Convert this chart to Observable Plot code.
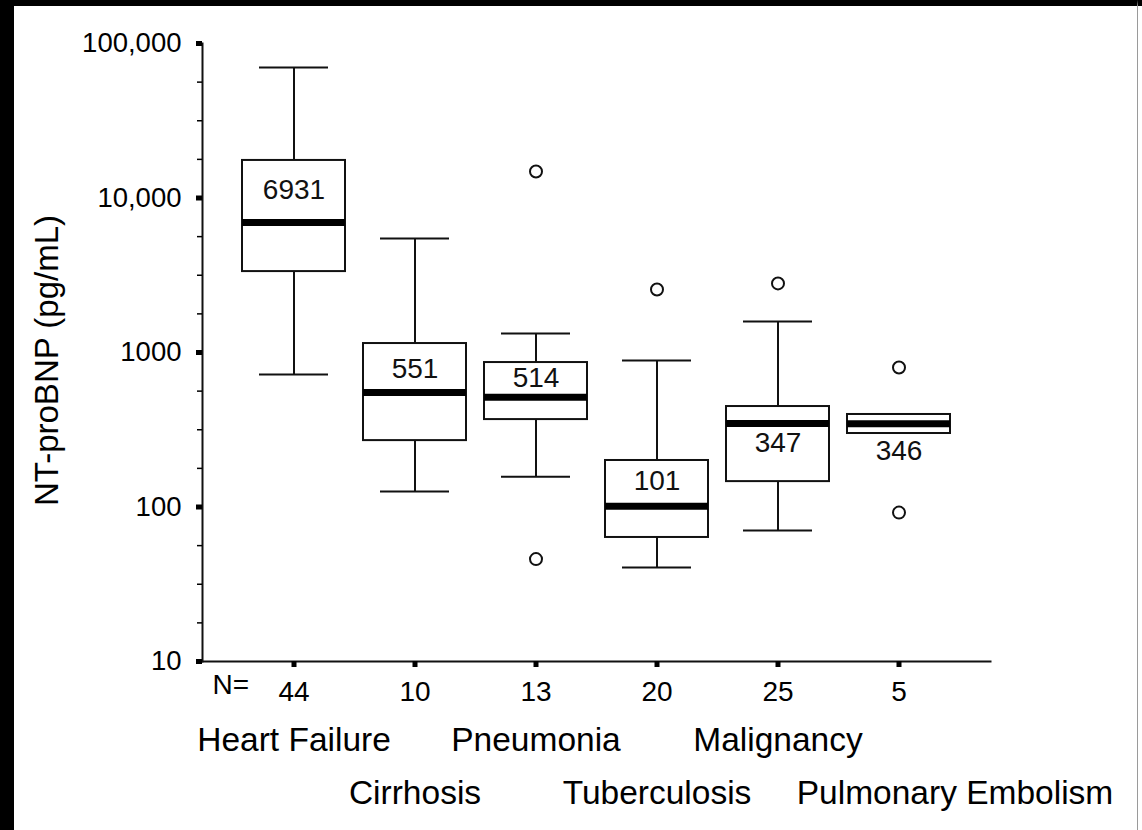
<!DOCTYPE html>
<html>
<head>
<meta charset="utf-8">
<script src="https://cdn.jsdelivr.net/npm/d3@7"></script>
<script src="https://cdn.jsdelivr.net/npm/@observablehq/plot@0.6"></script>
<style>
  html, body { margin: 0; padding: 0; background: #000; }
  #frame {
    position: relative;
    box-sizing: border-box;
    width: 1138px;
    height: 830px;
    background: #fff;
    border-top: 6px solid #000;
    border-left: 14px solid #000;
    border-right: 1px solid #9a9a9a;
  }
  #page-pad { position: absolute; left: 1138px; top: 6px; width: 4px; height: 824px; background: #fff; }
  #chart { position: absolute; left: 0; top: 0; }
</style>
</head>
<body>
<div id="frame"><div id="chart"></div></div>
<div id="page-pad"></div>
<script>
// NT-proBNP by diagnosis group, box-and-whisker summary on a log scale
const categories = ["Heart Failure", "Cirrhosis", "Pneumonia", "Tuberculosis", "Malignancy", "Pulmonary Embolism"];
const counts = [44, 10, 13, 20, 25, 5];
const medians = [6931, 551, 514, 101, 347, 346];
const lowerQuartiles = [3340, 269, 368, 63.5, 146, 299];
const upperQuartiles = [17500, 1143, 861, 200, 447, 397];
const lowerWhiskers = [720, 126, 157, 40.6, 70.5, null];
const upperWhiskers = [70000, 5470, 1327, 887, 1588, null];
const outlierCategories = ["Pneumonia", "Pneumonia", "Tuberculosis", "Malignancy", "Pulmonary Embolism", "Pulmonary Embolism"];
const outlierValues = [14850, 46, 2560, 2800, 800, 92];
const yTickValues = [10, 100, 1000, 10000, 100000];
const yTickLabels = ["10", "100", "1000", "10,000", "100,000"];

// layout: vertical offset of each median label from its median line (px)
const medianLabelOffsets = [-33, -23, -19, -25, 20, 27];
// horizontal nudge for the long group name at the right end
const nameShift = {"Pulmonary Embolism": 56};

const boxes = categories.map((c, i) => ({
  category: c,
  n: counts[i],
  median: medians[i],
  q1: lowerQuartiles[i],
  q3: upperQuartiles[i],
  lo: lowerWhiskers[i],
  hi: upperWhiskers[i],
  row: i % 2,
  labelDy: medianLabelOffsets[i],
  nameDx: nameShift[c] || 0
}));
const whiskered = boxes.filter(d => d.lo != null && d.hi != null);
const outliers = outlierCategories.map((c, i) => ({category: c, value: outlierValues[i]}));

// quarter-decade minor ticks between the labelled powers of ten
const minorTicks = [];
for (let k = 1; k < 5; ++k) for (const f of [0.25, 0.5, 0.75]) minorTicks.push(Math.pow(10, k + f));

const font = "'Liberation Sans', Arial, Helvetica, sans-serif";

// one text mark per item so each can carry its own offset
const eachText = (items, options) => items.map(d => Plot.text([d], options(d)));

const chart = Plot.plot({
  width: 1120,
  height: 824,
  marginLeft: 188,
  marginRight: 144,
  marginTop: 37,
  marginBottom: 169,
  style: {fontFamily: font, background: "transparent", color: "#000", overflow: "visible"},
  x: {type: "band", domain: categories, paddingInner: 0.15, paddingOuter: 0.318, axis: null},
  y: {type: "log", domain: [10, 100000], axis: null},
  marks: [
    // axis lines
    Plot.frame({anchor: "left", stroke: "#111", strokeWidth: 2}),
    Plot.frame({anchor: "bottom", stroke: "#111", strokeWidth: 2}),
    // y axis
    Plot.axisY(minorTicks, {tickSize: 5, strokeWidth: 1.5, tickFormat: () => "", label: null}),
    Plot.axisY(yTickValues, {
      tickSize: 6, strokeWidth: 5, tickPadding: 15, fontSize: 27.5,
      tickFormat: d => yTickLabels[yTickValues.indexOf(d)], label: null
    }),
    // x axis: group sizes under each box
    Plot.axisX({
      tickSize: 6, strokeWidth: 5, tickPadding: 14, fontSize: 28,
      tickFormat: d => String(counts[categories.indexOf(d)]), label: null
    }),
    Plot.text(["N="], {frameAnchor: "bottom-left", textAnchor: "start", lineAnchor: "bottom", dx: 10, dy: 32, fontSize: 28}),
    // group names on two staggered rows
    ...eachText(boxes, d => ({
      x: "category", text: "category", frameAnchor: "bottom", lineAnchor: "bottom",
      dy: d.row === 0 ? 89 : 142, dx: d.nameDx, fontSize: 33.5
    })),
    // y axis title
    Plot.text(["NT-proBNP (pg/mL)"], {
      frameAnchor: "left", textAnchor: "middle", rotate: -90, dx: -155, dy: 8,
      fontSize: 33, lineAnchor: "middle"
    }),
    // whiskers
    Plot.ruleX(whiskered, {x: "category", y1: "q3", y2: "hi", stroke: "#111", strokeWidth: 2}),
    Plot.ruleX(whiskered, {x: "category", y1: "lo", y2: "q1", stroke: "#111", strokeWidth: 2}),
    Plot.tickY(whiskered, {x: "category", y: "hi", insetLeft: 17, insetRight: 17, stroke: "#111", strokeWidth: 2}),
    Plot.tickY(whiskered, {x: "category", y: "lo", insetLeft: 17, insetRight: 17, stroke: "#111", strokeWidth: 2}),
    // interquartile boxes
    Plot.rectY(boxes, {x: "category", y1: "q1", y2: "q3", fill: "#fff", stroke: "#111", strokeWidth: 2}),
    // medians and their values
    Plot.tickY(boxes, {x: "category", y: "median", stroke: "#000", strokeWidth: 7}),
    ...eachText(boxes, d => ({
      x: "category", y: "median", text: d => String(d.median), fontSize: 28,
      lineAnchor: "middle", dy: d.labelDy, fill: "#111"
    })),
    // outliers
    Plot.dot(outliers, {x: "category", y: "value", r: 6, fill: "#fff", stroke: "#111", strokeWidth: 2})
  ]
});

document.getElementById("chart").appendChild(chart);
</script>
</body>
</html>
